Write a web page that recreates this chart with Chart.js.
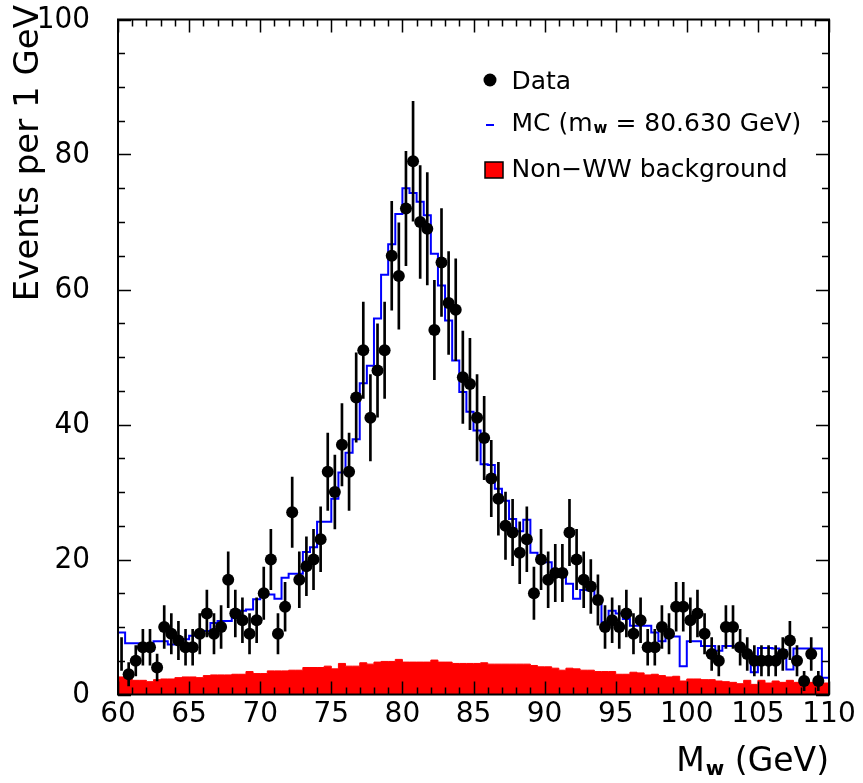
<!DOCTYPE html>
<html>
<head>
<meta charset="utf-8">
<title>W mass distribution</title>
<script src="https://cdn.jsdelivr.net/npm/chart.js@4.4.0/dist/chart.umd.min.js"></script>
<style>
  html, body { margin: 0; padding: 0; background: #fff; }
  #wrap { width: 863px; height: 783px; }
</style>
</head>
<body>
<div id="wrap"><canvas id="mwChart" width="863" height="783"></canvas></div>
<script>
// Binning of the histograms (GeV)
const binStart = 60;
const binWidth = 0.5;

// Axis tick labels
const xTicks = [60, 65, 70, 75, 80, 85, 90, 95, 100, 105, 110];
const yTicks = [0, 20, 40, 60, 80, 100];

// Data, one entry per bin (centres 60.25 ... 109.25)
const dataCounts = [
    6, 3, 5, 7, 7, 4, 10, 9, 8, 7,
    7, 9, 12, 9, 10, 17, 12, 11, 9, 11,
    15, 20, 9, 13, 27, 17, 19, 20, 23, 33,
    30, 37, 33, 44, 51, 41, 48, 51, 65, 62,
    72, 79, 70, 69, 54, 64, 58, 57, 47, 46,
    41, 38, 32, 29, 25, 24, 21, 23, 15, 20,
    17, 18, 18, 24, 20, 17, 16, 14, 10, 11,
    10, 12, 9, 11, 7, 7, 10, 9, 13, 13,
    11, 12, 9, 6, 5, 10, 10, 7, 6, 5,
    5, 5, 5, 6, 8, 5, 2, 6, 2
];

// MC expectation, bins 60.0-60.5 ... 109.5-110.0
const mcCounts = [
    9.2, 7.6, 7.6, 7.0, 6.5, 7.9, 7.9, 7.4, 7.9, 8.2,
    8.7, 9.0, 9.4, 10.6, 10.9, 10.9, 12.4, 12.4, 12.6, 14.1,
    15.1, 14.8, 14.2, 17.3, 17.9, 17.9, 21.1, 21.8, 25.6, 25.6,
    29.0, 32.9, 35.8, 37.8, 46.1, 48.7, 55.7, 62.2, 66.7, 71.2,
    75.0, 74.3, 73.0, 71.0, 65.3, 60.6, 55.4, 49.5, 44.8, 41.9,
    39.1, 34.1, 34.0, 30.5, 28.7, 26.0, 24.2, 25.9, 21.0, 19.6,
    19.6, 18.5, 18.5, 16.4, 14.2, 15.5, 15.4, 14.0, 10.7, 12.4,
    12.0, 11.2, 10.2, 10.2, 10.2, 9.2, 7.9, 8.6, 8.6, 4.2,
    7.9, 7.9, 7.2, 7.2, 6.5, 7.2, 7.2, 6.8, 6.5, 3.3,
    6.9, 6.9, 6.8, 6.6, 3.7, 6.8, 6.8, 6.8, 6.8, 2.5
];

// Non-WW background, same bins as MC
const bkgCounts = [
    2.6, 2.3, 2.1, 2.1, 1.9, 2.2, 2.3, 2.3, 2.5, 2.6,
    2.6, 2.5, 2.8, 2.9, 2.9, 2.9, 3.0, 3.0, 3.4, 3.1,
    3.1, 3.5, 3.5, 3.5, 3.6, 3.6, 4.0, 4.0, 4.0, 4.2,
    3.8, 4.6, 4.2, 4.2, 4.7, 4.5, 4.8, 4.9, 4.9, 5.2,
    4.8, 4.8, 4.8, 4.8, 5.1, 4.8, 4.8, 4.6, 4.6, 4.6,
    4.6, 4.7, 4.5, 4.5, 4.5, 4.5, 4.5, 4.5, 4.3, 4.1,
    4.1, 3.9, 3.6, 3.9, 3.8, 3.6, 3.6, 3.4, 3.4, 3.4,
    3.0, 3.0, 3.3, 3.2, 2.9, 3.0, 2.8, 2.6, 2.7, 2.0,
    2.3, 2.3, 2.2, 2.2, 2.0, 1.9, 1.8, 1.6, 2.1, 1.5,
    2.1, 1.7, 2.0, 1.8, 2.1, 1.8, 1.6, 1.8, 1.3, 1.7
];

const FONT = '"DejaVu Sans", sans-serif';

// Helpers to turn bin contents into chart points
const edgeX = i => binStart + i * binWidth;

function histPoints(values) {
    const pts = values.map((v, i) => ({ x: edgeX(i), y: v }));
    pts.push({ x: edgeX(values.length), y: values[values.length - 1] });
    return pts;
}

const dataPoints = dataCounts.map((n, i) => ({ x: edgeX(i) + binWidth / 2, y: n }));
// Poisson errors
const errorBars = dataCounts.map((n, i) => ({
    x: edgeX(i) + binWidth / 2,
    y: [n - Math.sqrt(n), n + Math.sqrt(n)]
}));

// Frame with inward ticks on all four sides
const framePlugin = {
    id: 'frame',
    afterDatasetsDraw(chart) {
        const { ctx, chartArea: a, scales: { x, y } } = chart;
        ctx.save();
        ctx.strokeStyle = '#000';
        ctx.lineWidth = 1.5;
        ctx.beginPath();
        for (let v = xTicks[0]; v <= xTicks[xTicks.length - 1]; v++) {
            const px = Math.round(x.getPixelForValue(v)) + 0.5;
            const len = v % 5 === 0 ? 13 : 7;
            ctx.moveTo(px, a.bottom); ctx.lineTo(px, a.bottom - len);
            ctx.moveTo(px, a.top); ctx.lineTo(px, a.top + len);
        }
        for (let v = yTicks[0]; v <= yTicks[yTicks.length - 1]; v += 5) {
            const py = Math.round(y.getPixelForValue(v)) + 0.5;
            const len = v % 20 === 0 ? 13 : 7;
            ctx.moveTo(a.left, py); ctx.lineTo(a.left + len, py);
            ctx.moveTo(a.right, py); ctx.lineTo(a.right - len, py);
        }
        ctx.stroke();
        ctx.lineWidth = 2;
        ctx.strokeRect(a.left, a.top, a.width, a.height);
        ctx.restore();
    }
};

// Legend and axis titles (with subscripts)
const textPlugin = {
    id: 'pawText',
    afterDraw(chart) {
        const ctx = chart.ctx;
        ctx.save();
        ctx.fillStyle = '#000';
        ctx.textBaseline = 'alphabetic';

        // legend: Data
        ctx.beginPath();
        ctx.arc(490, 80, 6.5, 0, Math.PI * 2);
        ctx.fill();
        ctx.font = '25px ' + FONT;
        ctx.fillText('Data', 511.5, 88.5);

        // legend: MC
        ctx.strokeStyle = '#0000ff';
        ctx.lineWidth = 2;
        ctx.beginPath();
        ctx.moveTo(486, 125); ctx.lineTo(494, 125);
        ctx.stroke();
        let tx = 511.5;
        ctx.fillText('MC (m', tx, 130.5);
        tx += ctx.measureText('MC (m').width + 1;
        ctx.font = 'bold 15px ' + FONT;
        ctx.fillText('w', tx, 133);
        tx += ctx.measureText('w').width;
        ctx.font = '25px ' + FONT;
        ctx.fillText(' = 80.630 GeV)', tx, 130.5);

        // legend: background
        ctx.fillStyle = '#ff0000';
        ctx.fillRect(485, 162, 18, 16);
        ctx.strokeStyle = '#000';
        ctx.lineWidth = 1.5;
        ctx.strokeRect(485, 162, 18, 16);
        ctx.fillStyle = '#000';
        ctx.fillText('Non\u2212WW background', 511.5, 176.5);

        // x title: M_w (GeV), right aligned to the frame
        ctx.font = '33px ' + FONT;
        const wM = ctx.measureText('M').width;
        const wRest = ctx.measureText(' (GeV)').width;
        ctx.font = 'bold 20px ' + FONT;
        const wSub = ctx.measureText('w').width;
        let x0 = chart.chartArea.right - (wM + wSub + 1 + wRest);
        ctx.font = '33px ' + FONT;
        ctx.fillText('M', x0, 771);
        ctx.font = 'bold 20px ' + FONT;
        ctx.fillText('w', x0 + wM + 1, 775);
        ctx.font = '33px ' + FONT;
        ctx.fillText(' (GeV)', x0 + wM + 1 + wSub, 771);

        // y title, rotated, ending at the top
        ctx.translate(38, 0);
        ctx.rotate(-Math.PI / 2);
        ctx.textAlign = 'right';
        ctx.font = '34px ' + FONT;
        ctx.fillText('Events per 1 GeV', -5, 0);
        ctx.restore();
    }
};

const ctx = document.getElementById('mwChart').getContext('2d');

new Chart(ctx, {
    type: 'line',
    data: {
        datasets: [
            {
                label: 'Non-WW background',
                data: histPoints(bkgCounts),
                stepped: true,
                borderColor: '#ff0000',
                borderWidth: 1,
                backgroundColor: '#ff0000',
                fill: 'origin',
                pointRadius: 0,
                order: 4
            },
            {
                label: 'MC (mw = 80.630 GeV)',
                data: histPoints(mcCounts),
                stepped: true,
                borderColor: '#0000ff',
                borderWidth: 2,
                fill: false,
                pointRadius: 0,
                order: 3
            },
            {
                type: 'bar',
                label: 'errors',
                data: errorBars,
                backgroundColor: '#000',
                barThickness: 2,
                grouped: false,
                order: 2
            },
            {
                label: 'Data',
                data: dataPoints,
                showLine: false,
                // first bin sits on the frame, its marker is not drawn
                pointRadius: c => (c.raw && c.raw.x < binStart + binWidth ? 0 : 6),
                pointBackgroundColor: '#000',
                pointBorderWidth: 0,
                order: 1
            }
        ]
    },
    options: {
        responsive: false,
        animation: false,
        events: [],
        layout: { padding: { top: 19.5, right: 34, left: 0, bottom: 0 } },
        plugins: {
            legend: { display: false },
            tooltip: { enabled: false }
        },
        scales: {
            x: {
                type: 'linear',
                min: xTicks[0],
                max: xTicks[xTicks.length - 1],
                offset: false,
                afterBuildTicks: s => { s.ticks = xTicks.map(v => ({ value: v })); },
                afterFit: s => { s.height = 88.5; s.paddingLeft = 0; s.paddingRight = 0; },
                grid: { display: false, drawTicks: false },
                border: { display: false },
                ticks: {
                    color: '#000',
                    font: { family: FONT, size: 28 },
                    padding: 3,
                    maxRotation: 0,
                    autoSkip: false
                }
            },
            y: {
                type: 'linear',
                min: yTicks[0],
                max: yTicks[yTicks.length - 1],
                afterBuildTicks: s => { s.ticks = yTicks.map(v => ({ value: v })); },
                afterFit: s => { s.width = 118; s.paddingTop = 0; s.paddingBottom = 0; },
                grid: { display: false, drawTicks: false },
                border: { display: false },
                ticks: {
                    color: '#000',
                    font: { family: '"Liberation Sans Narrow", "DejaVu Sans Condensed", sans-serif', size: 31 },
                    padding: 28,
                    autoSkip: false
                }
            }
        }
    },
    plugins: [framePlugin, textPlugin]
});
</script>
</body>
</html>
